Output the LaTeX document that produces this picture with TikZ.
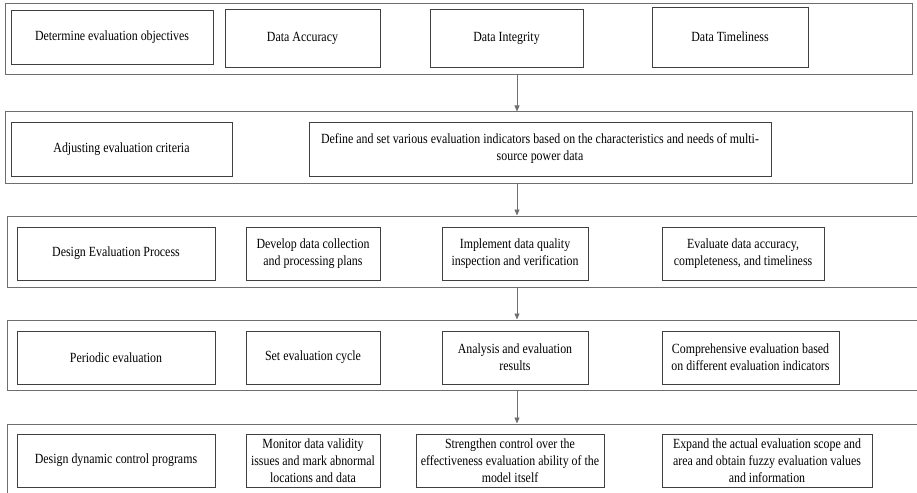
\documentclass[tikz,border=0pt]{standalone}
\usepackage{fontspec}
\setmainfont{Liberation Serif}[FakeStretch=0.85]
\usetikzlibrary{arrows.meta}
\definecolor{outergray}{HTML}{6E6E6E}
\definecolor{innergray}{HTML}{404040}
\definecolor{arrgray}{HTML}{707070}
\tikzset{
  rowbox/.style={draw=outergray, line width=1pt, inner sep=0pt, minimum width=#1},
  stepbox/.style={draw=innergray, line width=0.9pt, inner sep=0pt, align=center,
    font=\fontsize{14}{17}\selectfont, minimum height=53, minimum width=#1},
  flowarrow/.style={draw=arrgray, line width=0.9pt, -{Triangle[width=5pt,length=6pt]}},
}
\begin{document}
\begin{tikzpicture}[x=1pt,y=-1pt]
\useasboundingbox (0,0) rectangle (917,492);
% row frames
\node[rowbox=907, minimum height=71] (r1) at (458.5,39.5) {};
\node[rowbox=907, minimum height=71] (r2) at (458.5,147.5) {};
\node[rowbox=923, minimum height=71] (r3) at (468.5,251.5) {};
\node[rowbox=923, minimum height=70] (r4) at (468.5,355) {};
\node[rowbox=923, minimum height=86] (r5) at (468.5,467) {};
% row 1
\node[stepbox=202, minimum height=54] (a1) at (112,37) {Determine evaluation objectives};
\node[stepbox=155, minimum height=58] (a2) at (302.5,38) {Data Accuracy};
\node[stepbox=153, minimum height=58] (a3) at (506.5,38) {Data Integrity};
\node[stepbox=156, minimum height=60] (a4) at (730,37) {Data Timeliness};
% row 2
\node[stepbox=221, minimum height=54] (b1) at (121.5,149) {Adjusting evaluation criteria};
\node[stepbox=462, minimum height=54] (b2) at (540,149) {Define and set various evaluation indicators based on the characteristics and needs of multi-\\source power data};
% row 3
\node[stepbox=198] (c1) at (116,253.5) {Design Evaluation Process};
\node[stepbox=134] (c2) at (313,253.5) {Develop data collection\\and processing plans};
\node[stepbox=146] (c3) at (515,253.5) {Implement data quality\\inspection and verification};
\node[stepbox=162] (c4) at (743,253.5) {Evaluate data accuracy,\\completeness, and timeliness};
% row 4
\node[stepbox=198] (d1) at (116,357.5) {Periodic evaluation};
\node[stepbox=134] (d2) at (313,357.5) {Set evaluation cycle};
\node[stepbox=146] (d3) at (515,357.5) {Analysis and evaluation\\results};
\node[stepbox=177] (d4) at (750.5,357.5) {Comprehensive evaluation based\\on different evaluation indicators};
% row 5
\node[stepbox=198] (e1) at (116,460.5) {Design dynamic control programs};
\node[stepbox=134] (e2) at (313,460.5) {Monitor data validity\\issues and mark abnormal\\locations and data};
\node[stepbox=188] (e3) at (510,460.5) {Strengthen control over the\\effectiveness evaluation ability of the\\model itself};
\node[stepbox=210] (e4) at (767,460.5) {Expand the actual evaluation scope and\\area and obtain fuzzy evaluation values\\and information};
% arrows
\coordinate (ax) at (517,0);
\draw[flowarrow] (r1.south -| ax) -- (r2.north -| ax);
\draw[flowarrow] (r2.south -| ax) -- (r3.north -| ax);
\draw[flowarrow] (r3.south -| ax) -- (r4.north -| ax);
\draw[flowarrow] (r4.south -| ax) -- (r5.north -| ax);
\end{tikzpicture}
\end{document}
